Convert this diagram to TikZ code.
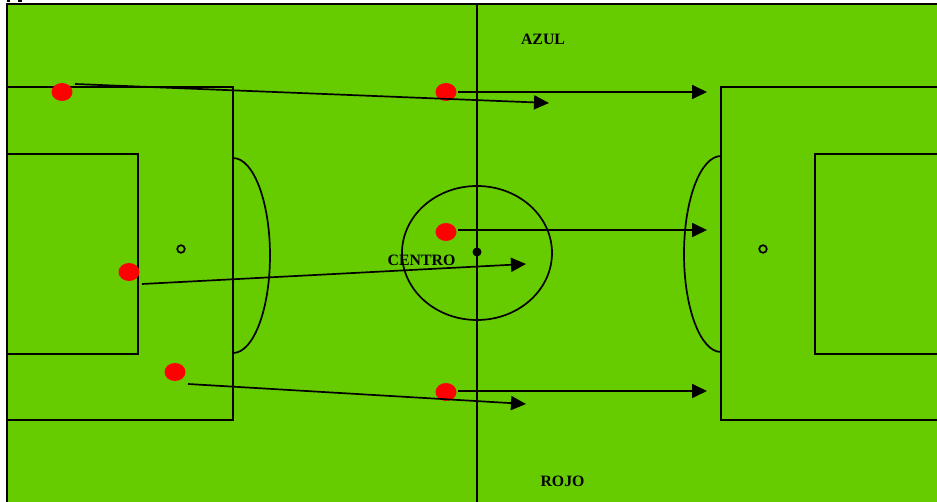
\documentclass[tikz,border=0pt]{standalone}
\usepackage{fontspec}
\setmainfont{Liberation Serif}
\usetikzlibrary{arrows.meta,shapes.geometric}
\definecolor{pitch}{RGB}{102,204,0}
\definecolor{dotred}{RGB}{255,0,0}
\begin{document}
\begin{tikzpicture}[x=1pt,y=-1pt,
  line/.style={black,line width=1.7pt},
  player/.style={ellipse,fill=dotred,minimum width=21pt,minimum height=18pt,inner sep=0pt},
  move/.style={black,line width=1.7pt,-{Triangle[length=15pt,width=14pt]}},
  lbl/.style={font=\bfseries\fontsize{15.8}{18}\selectfont,inner sep=0pt}]
\useasboundingbox (0,0) rectangle (937,502);
\fill[white] (0,0) rectangle (937,502);
\fill[pitch] (7,4) rectangle (940,505);
\fill[black] (7,0) rectangle (10,2);
\fill[black] (18,0) rectangle (22,2);
% outer lines
\draw[line] (7,505) -- (7,4) -- (940,4);
% halfway line
\draw[line] (477,4) -- (477,505);
% centre circle and spot
\draw[line] (477,253) ellipse [x radius=75, y radius=67];
\fill[black] (477,252) circle (4.5);
% left penalty area
\draw[line] (7,87) -- (233,87) -- (233,420) -- (7,420);
\draw[line] (7,154) -- (138,154) -- (138,354) -- (7,354);
\draw[line] (181,249) circle (3.8);
\draw[line] (233,158) arc[start angle=-90, end angle=90, x radius=37, y radius=97.5];
% right penalty area
\draw[line] (940,87) -- (721,87) -- (721,420) -- (940,420);
\draw[line] (940,154) -- (815,154) -- (815,354) -- (940,354);
\draw[line] (763,249) circle (3.8);
\draw[line] (721,156) arc[start angle=-90, end angle=-270, x radius=37, y radius=98];
% players
\node[player] (p1) at (62,92) {};
\node[player] (p2) at (446,92) {};
\node[player] (p3) at (446,232) {};
\node[player] (p4) at (129,272) {};
\node[player] (p5) at (175,372) {};
\node[player] (p6) at (446,392) {};
% arrow ends
\coordinate (s1) at (75,84);   \coordinate (e1) at (549,103);
\coordinate (s2) at (458,92);  \coordinate (e2) at (707,92);
\coordinate (s3) at (458,230); \coordinate (e3) at (707,230);
\coordinate (s4) at (142,284); \coordinate (e4) at (526,264);
\coordinate (s5) at (188,384); \coordinate (e5) at (526,404);
\coordinate (s6) at (458,391); \coordinate (e6) at (707,391);
\draw[move] (s1) -- (e1);
\draw[move] (s2) -- (e2);
\draw[move] (s3) -- (e3);
\draw[move] (s4) -- (e4);
\draw[move] (s5) -- (e5);
\draw[move] (s6) -- (e6);
% labels
\node[lbl] (azul) at (543,39) {AZUL};
\node[lbl] (centro) at (421.5,260) {CENTRO};
\node[lbl] (rojo) at (562.5,481) {ROJO};
\end{tikzpicture}
\end{document}
